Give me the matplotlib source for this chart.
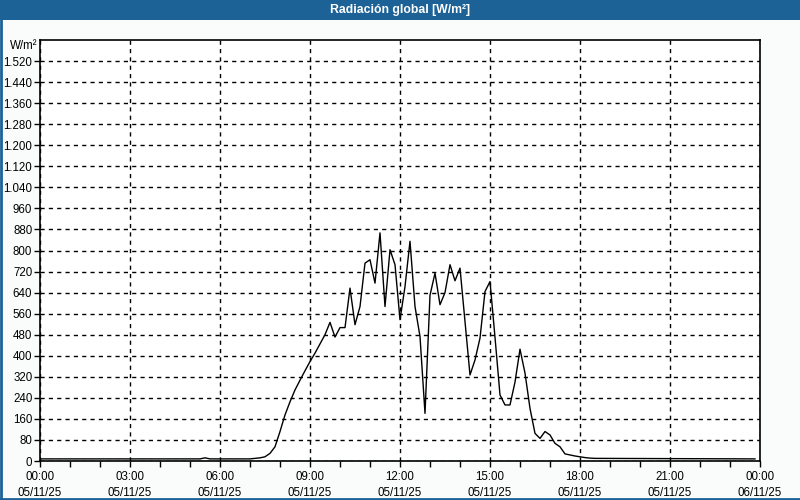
import matplotlib
matplotlib.use("Agg")
import matplotlib.pyplot as plt
from matplotlib.patches import Rectangle
from matplotlib.lines import Line2D
from matplotlib.ticker import FixedLocator, MultipleLocator

# ---- data (minutes after 05/11/25 00:00, W/m²) ----
minutes = [0, 320, 330, 340, 420, 430, 440, 450, 460, 470, 480, 490, 500, 510, 520,
           530, 540, 550, 560, 570, 580, 590, 600, 610, 620, 630, 640, 650, 660,
           670, 680, 690, 700, 710, 720, 730, 740, 750, 760, 770, 780, 790, 800,
           810, 820, 830, 840, 850, 860, 870, 880, 890, 900, 910, 920, 930, 940,
           950, 960, 970, 980, 990, 1000, 1010, 1020, 1030, 1040, 1050, 1060,
           1070, 1080, 1090, 1100, 1110, 1430]
radiation = [8, 8, 12, 8, 8, 10, 12, 16, 29, 54, 112, 175, 225, 270, 307,
             343, 378, 410, 445, 480, 527, 471, 507, 507, 657, 518, 587, 752, 765,
             676, 867, 587, 803, 746, 537, 663, 835, 587, 473, 181, 630, 714, 594,
             640, 746, 685, 733, 530, 327, 384, 467, 644, 682, 470, 251, 213, 213,
             300, 425, 334, 200, 105, 86, 112, 99, 67, 54, 27, 23, 19, 16,
             13, 11, 10, 8]

x_ticks = [0, 180, 360, 540, 720, 900, 1080, 1260, 1440]
x_tick_labels = ["00:00\n05/11/25", "03:00\n05/11/25", "06:00\n05/11/25",
                 "09:00\n05/11/25", "12:00\n05/11/25", "15:00\n05/11/25",
                 "18:00\n05/11/25", "21:00\n05/11/25", "00:00\n06/11/25"]
y_ticks = list(range(0, 1521, 80))
y_tick_labels = [f"{v:,}".replace(",", ".") for v in y_ticks]

title = "Radiación global [W/m²]"
unit = "W/m²"

# ---- style ----
plt.rcParams['font.family'] = ['Liberation Sans', 'DejaVu Sans']
BLUE = "#1c6296"
FS = 8.3

fig = plt.figure(figsize=(8, 5), dpi=100, facecolor="#fafcfc")

# title bar
fig.patches.append(Rectangle((0, 1 - 20 / 500), 1, 20 / 500, transform=fig.transFigure,
                             facecolor=BLUE, edgecolor="none", zorder=0))
fig.text(0.5, 1 - 10 / 500, title, color="white", fontsize=8.8, fontweight="bold",
         ha="center", va="center")
# window frame (left / bottom)
fig.add_artist(Line2D([1 / 800, 1 / 800], [0, 1], transform=fig.transFigure,
                      color=BLUE, linewidth=2))
fig.add_artist(Line2D([0, 1], [1.0 / 500, 1.0 / 500], transform=fig.transFigure,
                      color=BLUE, linewidth=2))

ax = fig.add_axes([40 / 800, 1 - 461 / 500, 720 / 800, 421 / 500])
ax.set_facecolor("white")
ax.plot(minutes, radiation, color="black", linewidth=1.0)

ax.set_xlim(0, 1440)
ax.set_ylim(0, 1600)
ax.xaxis.set_major_locator(FixedLocator(x_ticks))
ax.set_xticklabels(x_tick_labels, fontsize=FS, linespacing=1.45)
ax.xaxis.set_minor_locator(MultipleLocator(60))
ax.yaxis.set_major_locator(FixedLocator(y_ticks))
ax.set_yticklabels(y_tick_labels, fontsize=FS)

ax.tick_params(axis="x", which="major", length=4, width=1, pad=3, color="black")
ax.tick_params(axis="x", which="minor", length=4, width=1, color="black")
ax.tick_params(axis="y", which="major", length=4, width=1, pad=1.5, color="black")

ax.grid(True, which="major", color="black", linestyle=(0, (3, 3)), linewidth=1)
for s in ax.spines.values():
    s.set_color("black")
    s.set_linewidth(1.2)

fig.text(10 / 800, 1 - 46 / 500, unit, fontsize=FS, ha="left", va="center")

fig.savefig("out.png", dpi=100, facecolor=fig.get_facecolor())
